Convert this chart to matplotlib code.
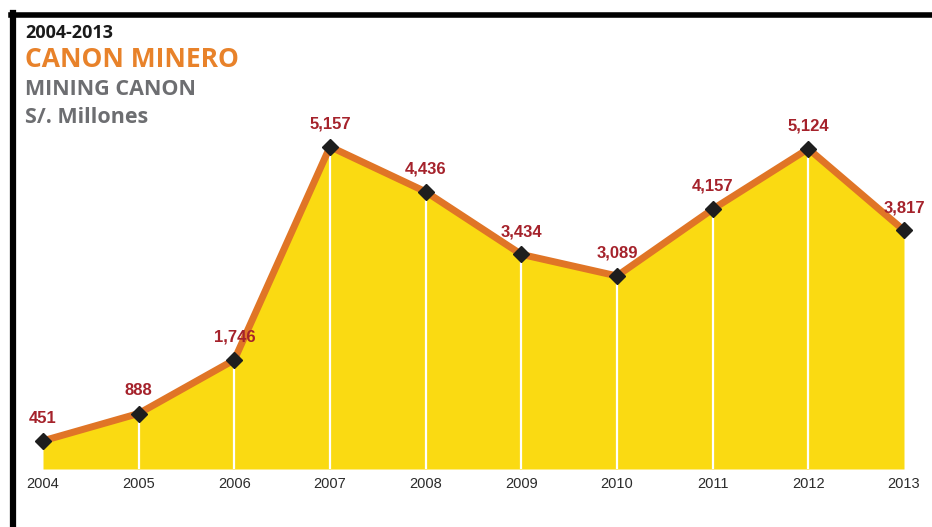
import numpy as np
import matplotlib.pyplot as plt
from matplotlib.lines import Line2D

# data
years = [2004, 2005, 2006, 2007, 2008, 2009, 2010, 2011, 2012, 2013]
canon = [451, 888, 1746, 5157, 4436, 3434, 3089, 4157, 5124, 3817]
labels = ['451', '888', '1,746', '5,157', '4,436', '3,434', '3,089', '4,157', '5,124', '3,817']

fig = plt.figure(figsize=(9.32, 5.27), dpi=100)
ax = fig.add_axes([43 / 932, 58 / 527, 861 / 932, 437.5 / 527])

ax.fill_between(years, canon, 0, color='#FADA12', lw=0, zorder=1)
# white separators from each point to the base
ax.vlines(years[1:-1], 0, canon[1:-1], color='white', lw=1.6, zorder=2)
ax.plot(years, canon, color='#E07526', lw=5, zorder=3, solid_capstyle='round', clip_on=False)
ax.plot(years, canon, ls='none', marker='D', ms=8.5, color='#1e1e1e', zorder=4, clip_on=False)

for x, y, t in zip(years, canon, labels):
    ax.annotate(t, (x, y), xytext=(0, 11), textcoords='offset points', ha='center',
                va='bottom', color='#A5222B', fontsize=12, fontweight='bold',
                family='Liberation Sans', zorder=5)

ax.set_xlim(2004, 2013)
ax.set_ylim(0, 7000)
ax.set_yticks([])
ax.set_xticks(years)
ax.set_xticklabels([str(y) for y in years], family='Liberation Sans', fontsize=10.5, color='#2b2b2b')
ax.tick_params(axis='x', length=0, pad=6)
for s in ax.spines.values():
    s.set_visible(False)
ax.patch.set_alpha(0)

# frame lines (top and left)
fig.add_artist(Line2D([12.5 / 932, 12.5 / 932], [0, 1 - 13 / 527], color='black', lw=4.5, transform=fig.transFigure))
fig.add_artist(Line2D([10.5 / 932, 1], [1 - 14.5 / 527, 1 - 14.5 / 527], color='black', lw=4, transform=fig.transFigure))

# titles
fig.text(25 / 932, 1 - 38 / 527, '2004-2013', fontsize=13, fontweight='bold', color='#1a1a1a', family='Open Sans')
fig.text(25 / 932, 1 - 67 / 527, 'CANON MINERO', fontsize=19, fontweight='bold', color='#E8822A', family='Open Sans')
fig.text(25 / 932, 1 - 95 / 527, 'MINING CANON', fontsize=15.5, fontweight='bold', color='#6D6E71', family='Open Sans')
fig.text(25 / 932, 1 - 123 / 527, 'S/. Millones', fontsize=15.5, fontweight='bold', color='#6D6E71', family='Open Sans')

fig.savefig('out.png', dpi=100)
